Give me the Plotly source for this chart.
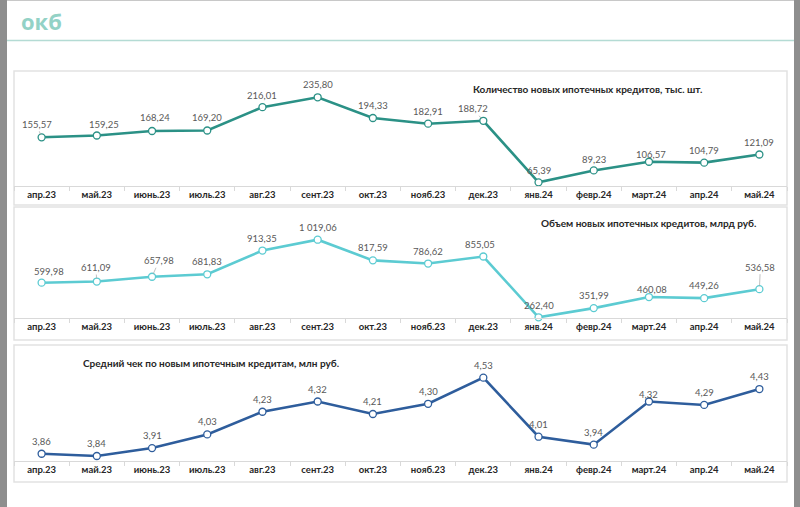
import plotly.graph_objects as go

# ---------------- data ----------------
months = ["апр.23", "май.23", "июнь.23", "июль.23", "авг.23", "сент.23", "окт.23",
          "нояб.23", "дек.23", "янв.24", "февр.24", "март.24", "апр.24", "май.24"]
count_k = [155.57, 159.25, 168.24, 169.20, 216.01, 235.80, 194.33,
           182.91, 188.72, 65.39, 89.23, 106.57, 104.79, 121.09]
volume_bn = [599.98, 611.09, 657.98, 681.83, 913.35, 1019.06, 817.59,
             786.62, 855.05, 262.40, 351.99, 460.08, 449.26, 536.58]
avg_check_mn = [3.86, 3.84, 3.91, 4.03, 4.23, 4.32, 4.21,
                4.30, 4.53, 4.01, 3.94, 4.32, 4.29, 4.43]
titles = ["Количество новых ипотечных кредитов, тыс. шт.",
          "Объем новых ипотечных кредитов, млрд руб.",
          "Средний чек по новым ипотечным кредитам, млн руб."]

# ---------------- layout helpers ----------------
W, H = 800, 507
def fx(px):
    return px / W
def fy(py):
    return 1 - py / H

def fmt(v):
    return f"{v:,.2f}".replace(",", " ").replace(".", ",")

X0, X1 = 14, 787
panels = [
    dict(values=count_k, color="#2b9186", ydom=(186, 71), yrange=(58.0, 288.5),
         title_xy=(587, 89),
         shifts=[(-5, 13, True), (7, 11, False), (3, 14, False), (0, 13, False), (0, 12, False),
                 (0, 12.5, False), (0, 12.5, False), (0, 12, False), (-10, 12, True), (0, 12, False),
                 (0, 11, False), (2, 7, False), (0, 12.5, False), (0, 12.5, False)]),
    dict(values=volume_bn, color="#5ccbd2", ydom=(318, 207), yrange=(255.6, 1337.9),
         title_xy=(648, 223),
         shifts=[(7, 11, False), (-1, 14, True), (7, 16, True), (0, 12.5, False), (0, 12.5, False),
                 (0, 12.5, False), (0, 13, False), (0, 12, False), (-3, 12, False), (0, 12.3, False),
                 (0, 12.5, False), (3, 7.3, False), (0, 12.3, False), (1, 22, True)]),
    dict(values=avg_check_mn, color="#2e5d9c", ydom=(461, 345), yrange=(3.796, 4.818),
         title_xy=(211, 363),
         shifts=[(0, 12.5, False)] * 11 + [(0, 6.7, False)] + [(0, 12.5, False)] * 2),
]

FONT = "Lato, 'Open Sans', sans-serif"
fig = go.Figure()
annotations = []
shapes = []
layout_axes = {}

for i, p in enumerate(panels):
    n = "" if i == 0 else str(i + 1)
    xa, ya = "x" + n, "y" + n
    fig.add_trace(go.Scatter(
        x=months, y=p["values"], xaxis=xa, yaxis=ya, mode="lines+markers",
        line=dict(color=p["color"], width=2.6),
        marker=dict(symbol="circle", size=7, color="white",
                    line=dict(color=p["color"], width=1.3)),
        cliponaxis=False, showlegend=False, hoverinfo="skip"))
    layout_axes["xaxis" + n] = dict(
        domain=[fx(X0), fx(X1)], anchor=ya, type="category", range=[-0.5, 13.5],
        showline=True, linecolor="#d9d9d9", linewidth=1, showgrid=False, zeroline=False,
        ticks="outside", tickson="boundaries", ticklen=4, tickcolor="#d9d9d9",
        tickmode="array", tickvals=months, ticktext=["<b>" + m + "</b>" for m in months],
        tickfont=dict(family=FONT, size=9.5, color="#262626"), fixedrange=True)
    layout_axes["yaxis" + n] = dict(
        domain=[fy(p["ydom"][0]), fy(p["ydom"][1])], anchor=xa, range=list(p["yrange"]),
        visible=False, showgrid=False, zeroline=False, fixedrange=True)
    # data labels
    for m, v, (dx, dy, arrow) in zip(months, p["values"], p["shifts"]):
        a = dict(x=m, y=v, xref=xa, yref=ya, text=fmt(v),
                 font=dict(family=FONT, size=9.5, color="#595959"))
        if arrow:
            a.update(showarrow=True, ax=dx, ay=-dy, arrowhead=0, arrowwidth=0.7,
                     arrowcolor="#a6a6a6", standoff=3, xanchor="center", yanchor="middle")
        else:
            a.update(showarrow=False, xshift=dx, yshift=dy, xanchor="center", yanchor="middle")
        annotations.append(a)
    # title
    tx, ty = p["title_xy"]
    annotations.append(dict(x=fx(tx), y=fy(ty), xref="paper", yref="paper", showarrow=False,
                            text="<b>" + titles[i] + "</b>", xanchor="center", yanchor="middle",
                            font=dict(family=FONT, size=10, color="#262626")))

# white page on grey background (grey strips at the left/right edges)
shapes.append(dict(type="rect", xref="paper", yref="paper", x0=fx(7), x1=fx(794), y0=0, y1=1,
                   line=dict(width=0), fillcolor="white", layer="below"))
# panel frames
for (top, bottom) in [(71, 205), (207, 340), (345, 482)]:
    shapes.append(dict(type="rect", xref="paper", yref="paper", x0=fx(X0), x1=fx(X1),
                       y0=fy(bottom), y1=fy(top), line=dict(color="#e2e2e2", width=1.5),
                       fillcolor="rgba(0,0,0,0)", layer="below"))
shapes.append(dict(type="line", xref="paper", yref="paper", x0=fx(7), x1=fx(794),
                   y0=fy(0.5), y1=fy(0.5), line=dict(color="#c8c8c8", width=1)))
# header rule
shapes.append(dict(type="line", xref="paper", yref="paper", x0=fx(7), x1=fx(794),
                   y0=fy(40.5), y1=fy(40.5), line=dict(color="#b4dbd4", width=1.5)))
# logo
annotations.append(dict(x=fx(19), y=fy(21), xref="paper", yref="paper", showarrow=False,
                        text="<b>окб</b>", xanchor="left", yanchor="middle",
                        font=dict(family="'Open Sans', sans-serif", size=22, color="#93d2c6")))

fig.update_layout(
    width=W, height=H, margin=dict(l=0, r=0, t=0, b=0),
    paper_bgcolor="#8e8e8e", plot_bgcolor="rgba(0,0,0,0)",
    annotations=annotations, shapes=shapes, **layout_axes)

fig.write_html("out.html", config={"displayModeBar": False},
               post_script=("document.body.style.margin='0';"
                            "document.body.style.overflow='hidden';"
                            "document.body.style.background='#8e8e8e';"))
